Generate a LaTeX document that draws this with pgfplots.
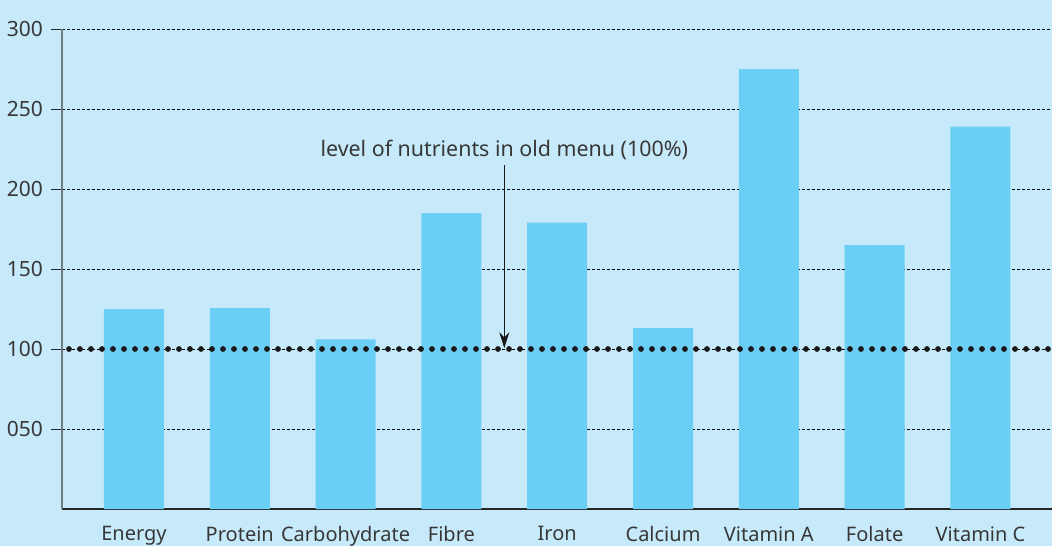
\documentclass[border=0pt]{standalone}
\usepackage{fontspec}
\setmainfont{Noto Sans}
\usepackage{pgfplots}
\pgfplotsset{compat=1.18}
\usetikzlibrary{arrows.meta}
\definecolor{bg}{RGB}{199,234,250}
\definecolor{barc}{RGB}{106,206,245}
\definecolor{txt}{RGB}{55,55,55}
\definecolor{yax}{RGB}{110,125,130}
\begin{document}
\begin{tikzpicture}
\fill[bg] (-31pt,-18.5pt) rectangle (495pt,254.5pt);
\useasboundingbox (-31pt,-18.5pt) rectangle (495pt,254.5pt);
\begin{axis}[
  at={(0,0)}, anchor=south west,
  scale only axis, width=495pt, height=240pt,
  xmin=-0.680, xmax=8.676, ymin=0, ymax=300,
  axis x line*=bottom, axis y line*=left,
  x axis line style={black!85, line width=0.6pt},
  y axis line style={yax, line width=0.9pt},
  xtick={0,...,8},
  xticklabels={Energy,Protein,Carbohydrate,Fibre,Iron,Calcium,Vitamin A,Folate,Vitamin C},
  ytick={50,100,150,200,250,300},
  yticklabels={050,100,150,200,250,300},
  major x tick style={draw=none},
  major y tick style={black!85, line width=0.5pt},
  tick align=outside, major tick length=5.5pt,
  ymajorgrids,
  major grid style={black, line width=0.45pt, dash pattern=on 1.5pt off 1pt},
  yticklabel style={font=\fontsize{10.5}{12}\selectfont, text=txt, xshift=-0.5pt},
  xticklabel style={font=\fontsize{10}{12}\selectfont, text=txt, yshift=0.3pt},
  clip=false,
]
\addplot[ybar, bar width=30pt, fill=barc, draw=none] coordinates {
 (0,125) (1,125.5) (2,106) (3,185) (4,179) (5,113) (6,275) (7,165) (8,239)
};
\addplot[black!90, line width=2.9pt, line cap=round, dash pattern=on 0pt off 5.5pt] coordinates {(-0.614,100) (8.66,100)};
\node[font=\fontsize{10.7}{13}\selectfont, text=txt] at (axis cs:3.5,224.5) {level of nutrients in old menu (100\%)};
\draw[black!90, line width=0.6pt, -{Stealth[length=8pt,width=5pt]}] (axis cs:3.5,215) -- (axis cs:3.5,100.5);
\end{axis}
\end{tikzpicture}
\end{document}
